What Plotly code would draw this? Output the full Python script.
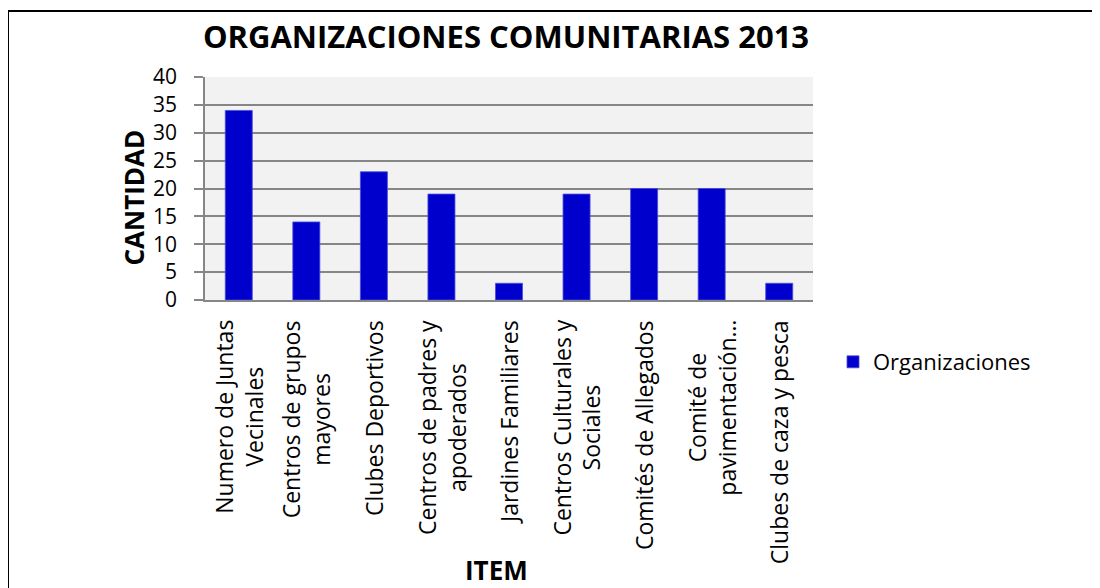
import plotly.graph_objects as go

categories = ["Numero de Juntas<br>Vecinales", "Centros de grupos<br>mayores", "Clubes Deportivos",
              "Centros de padres y<br>apoderados", "Jardines Familiares", "Centros Culturales y<br>Sociales",
              "Comités de Allegados", "Comité de<br>pavimentación…", "Clubes de caza y pesca"]
values = [34, 14, 23, 19, 3, 19, 20, 20, 3]
series_name = "Organizaciones"
title_text = "ORGANIZACIONES COMUNITARIAS 2013"
y_ticks = [0, 5, 10, 15, 20, 25, 30, 35, 40]

FONT = "Open Sans"
OFF = 8  # page body margin
W, H = 1100 - OFF, 588 - OFF
L, R, T, B = 205 - OFF, 813 - OFF, 77 - OFF, 300 - OFF
pw, ph = R - L, B - T

def px(x):  # page x -> paper
    return (x - OFF - L) / pw

def py(y):  # page y -> paper
    return (B - (y - OFF)) / ph

fig = go.Figure()
fig.add_trace(go.Bar(
    x=list(range(len(categories))), y=values, name=series_name,
    marker=dict(color="#0000CC", line=dict(color="#4B4BE0", width=0.8)),
    width=0.4, showlegend=True,
))

annotations = []
for i, c in enumerate(categories):
    annotations.append(dict(x=i, y=py(318), xref="x", yref="paper", text=c, textangle=-90,
                            showarrow=False, xanchor="center", yanchor="top", align="center",
                            font=dict(family=FONT, size=23, color="#000")))
annotations.append(dict(x=px(133), y=py(197.5), xref="paper", yref="paper", text="<b>CANTIDAD</b>",
                        textangle=-90, showarrow=False, xanchor="center", yanchor="middle",
                        font=dict(family=FONT, size=26, color="#000")))
annotations.append(dict(x=px(496), y=py(570), xref="paper", yref="paper", text="<b>ITEM</b>",
                        showarrow=False, xanchor="center", yanchor="middle",
                        font=dict(family=FONT, size=26, color="#000")))

shapes = [
    dict(type="line", xref="paper", yref="paper", x0=px(8), x1=px(1120), y0=py(11), y1=py(11),
         line=dict(color="#000", width=2)),
    dict(type="line", xref="paper", yref="paper", x0=px(8), x1=px(8), y0=py(11), y1=py(620),
         line=dict(color="#000", width=2)),
]

fig.update_layout(
    width=W, height=H,
    margin=dict(l=L, r=W - R, t=T, b=H - B, autoexpand=False),
    paper_bgcolor="white", plot_bgcolor="#F2F2F2",
    title=dict(text="<b>" + title_text + "</b>", x=(506 - OFF) / W, xanchor="center",
               y=1 - (37 - OFF) / H, yanchor="middle", font=dict(family=FONT, size=31, color="#000")),
    xaxis=dict(range=[-0.5, len(categories) - 0.5], showticklabels=False, showgrid=False,
               showline=True, linecolor="#868686", linewidth=1.5, ticks="", zeroline=False),
    yaxis=dict(range=[0, 40], tickvals=y_ticks, showgrid=True, gridcolor="#868686", gridwidth=1.5,
               showline=True, linecolor="#868686", linewidth=1.5, ticks="outside", ticklen=9,
               tickcolor="#868686", tickwidth=1.5, zeroline=False, ticklabelstandoff=13,
               tickfont=dict(family=FONT, size=21, color="#000")),
    legend=dict(x=px(833), y=py(362), xanchor="left", yanchor="middle",
                font=dict(family=FONT, size=22, color="#000"), bgcolor="rgba(0,0,0,0)"),
    annotations=annotations, shapes=shapes,
    bargap=0.6,
)

fig.write_html("out.html")
